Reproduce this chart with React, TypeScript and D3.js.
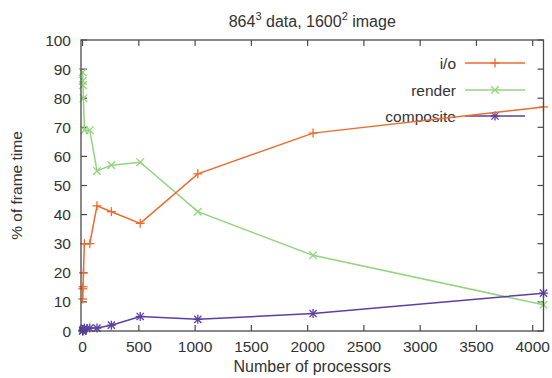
import { useEffect, useRef } from 'react';
import * as d3 from 'd3';

// processor counts and % of frame time per stage
const procs = [1, 2, 4, 8, 16, 64, 128, 256, 512, 1024, 2048, 4096];
const ioValues = [11, 14.5, 15.2, 20, 30, 30, 43, 41, 37, 54, 68, 77];
const renderValues = [89, 86, 84.5, 80, 69, 69, 55, 57, 58, 41, 26, 9];
const compositeValues = [0, 0, 0.3, 0.5, 1, 1, 1, 2, 5, 4, 6, 13];
const seriesNames = ['i/o', 'render', 'composite'];
const xTicks = [0, 500, 1000, 1500, 2000, 2500, 3000, 3500, 4000];
const yTicks = [0, 10, 20, 30, 40, 50, 60, 70, 80, 90, 100];

export default function App() {
  const svgRef = useRef<SVGSVGElement>(null);

  useEffect(() => {
    if (!svgRef.current) return;
    d3.select(svgRef.current).selectAll('*').remove();

    const width = 552;
    const height = 378;
    const margin = { top: 40, right: 8.5, bottom: 47, left: 81 };
    const font = 'Liberation Sans, Arial, sans-serif';
    const axisColor = '#4a4a4a';
    const textColor = '#333';
    const fs = '15.5px';

    const svg = d3.select(svgRef.current)
      .attr('width', width)
      .attr('height', height);

    const x = d3.scaleLinear()
      .domain([-14, 4096])
      .range([margin.left, width - margin.right]);
    const y = d3.scaleLinear()
      .domain([0, 100])
      .range([height - margin.bottom, margin.top]);

    const x0 = margin.left, x1 = width - margin.right;
    const y0 = height - margin.bottom, y1 = margin.top;
    const tickLen = 6;

    // ticks (inward, mirrored)
    const tg = svg.append('g').attr('stroke', axisColor).attr('stroke-width', 1.2);
    xTicks.forEach(t => {
      tg.append('line').attr('x1', x(t)).attr('x2', x(t)).attr('y1', y0).attr('y2', y0 - tickLen);
      tg.append('line').attr('x1', x(t)).attr('x2', x(t)).attr('y1', y1).attr('y2', y1 + tickLen);
    });
    yTicks.forEach(t => {
      tg.append('line').attr('x1', x0).attr('x2', x0 + tickLen).attr('y1', y(t)).attr('y2', y(t));
      tg.append('line').attr('x1', x1).attr('x2', x1 - tickLen).attr('y1', y(t)).attr('y2', y(t));
    });

    // tick labels
    svg.append('g').selectAll('text')
      .data(xTicks)
      .enter()
      .append('text')
      .attr('x', d => x(d))
      .attr('y', y0 + 21)
      .attr('text-anchor', 'middle')
      .style('font-family', font)
      .style('font-size', fs)
      .attr('fill', textColor)
      .text(d => String(d));

    svg.append('g').selectAll('text')
      .data(yTicks)
      .enter()
      .append('text')
      .attr('x', x0 - 10)
      .attr('y', d => y(d) + 5.5)
      .attr('text-anchor', 'end')
      .style('font-family', font)
      .style('font-size', fs)
      .attr('fill', textColor)
      .text(d => String(d));

    const colors = ['#ef6a2c', '#93d47e', '#5c3fa6'];
    const allValues = [ioValues, renderValues, compositeValues];

    const marker = (g: d3.Selection<SVGGElement, unknown, null, undefined>, kind: number, cx: number, cy: number, color: string) => {
      const s = 4.5;
      const p = g.append('g').attr('stroke', color).attr('stroke-width', 1.3);
      if (kind === 0 || kind === 2) {
        p.append('line').attr('x1', cx).attr('x2', cx).attr('y1', cy - s).attr('y2', cy + s);
        if (kind === 0) p.append('line').attr('x1', cx - s).attr('x2', cx + s).attr('y1', cy).attr('y2', cy);
      }
      if (kind === 1 || kind === 2) {
        const d = kind === 1 ? s * 0.85 : s * 0.8;
        p.append('line').attr('x1', cx - d).attr('x2', cx + d).attr('y1', cy - d).attr('y2', cy + d);
        p.append('line').attr('x1', cx - d).attr('x2', cx + d).attr('y1', cy + d).attr('y2', cy - d);
      }
      if (kind === 2) {
        p.append('line').attr('x1', cx - s).attr('x2', cx + s).attr('y1', cy).attr('y2', cy);
      }
    };

    const line = d3.line<number>()
      .x((_, i) => x(procs[i]))
      .y(d => y(d));

    // legend
    const legendY = [63, 90, 116];
    seriesNames.forEach((name, k) => {
      const lg = svg.append('g');
      lg.append('text')
        .attr('x', 456)
        .attr('y', legendY[k] + 5.5)
        .attr('text-anchor', 'end')
        .style('font-family', font)
        .style('font-size', fs)
        .attr('fill', textColor)
        .text(name);
      lg.append('line')
        .attr('x1', 465).attr('x2', 525)
        .attr('y1', legendY[k]).attr('y2', legendY[k])
        .attr('stroke', colors[k]).attr('stroke-width', 1.5);
      marker(lg, k, 495, legendY[k], colors[k]);
    });

    // series (render first so i/o sits above it)
    [1, 0, 2].forEach(k => {
      const g = svg.append('g');
      g.append('path')
        .datum(allValues[k])
        .attr('d', line)
        .attr('fill', 'none')
        .attr('stroke', colors[k])
        .attr('stroke-width', 1.5);
      allValues[k].forEach((v, i) => marker(g, k, x(procs[i]), y(v), colors[k]));
    });

    // border
    svg.append('rect')
      .attr('x', x0).attr('y', y1)
      .attr('width', x1 - x0).attr('height', y0 - y1)
      .attr('fill', 'none')
      .attr('stroke', axisColor)
      .attr('stroke-width', 1.3);

    // title
    const title = svg.append('text')
      .attr('x', (x0 + x1) / 2)
      .attr('y', 27)
      .attr('text-anchor', 'middle')
      .style('font-family', font)
      .style('font-size', '16px')
      .attr('fill', textColor);
    title.append('tspan').text('864');
    title.append('tspan').attr('dy', -7).style('font-size', '11px').text('3');
    title.append('tspan').attr('dy', 7).text(' data, 1600');
    title.append('tspan').attr('dy', -7).style('font-size', '11px').text('2');
    title.append('tspan').attr('dy', 7).text(' image');

    // axis titles
    svg.append('text')
      .attr('x', (x0 + x1) / 2)
      .attr('y', 372)
      .attr('text-anchor', 'middle')
      .style('font-family', font)
      .style('font-size', '16px')
      .attr('fill', textColor)
      .text('Number of processors');

    svg.append('text')
      .attr('transform', `translate(22,${(y0 + y1) / 2}) rotate(-90)`)
      .attr('text-anchor', 'middle')
      .style('font-family', font)
      .style('font-size', fs)
      .attr('fill', textColor)
      .text('% of frame time');
  }, []);

  return (
    <div style={{ position: 'absolute', left: 0, top: 0, background: '#fff' }}>
      <svg ref={svgRef} style={{ display: 'block' }}></svg>
    </div>
  );
}
